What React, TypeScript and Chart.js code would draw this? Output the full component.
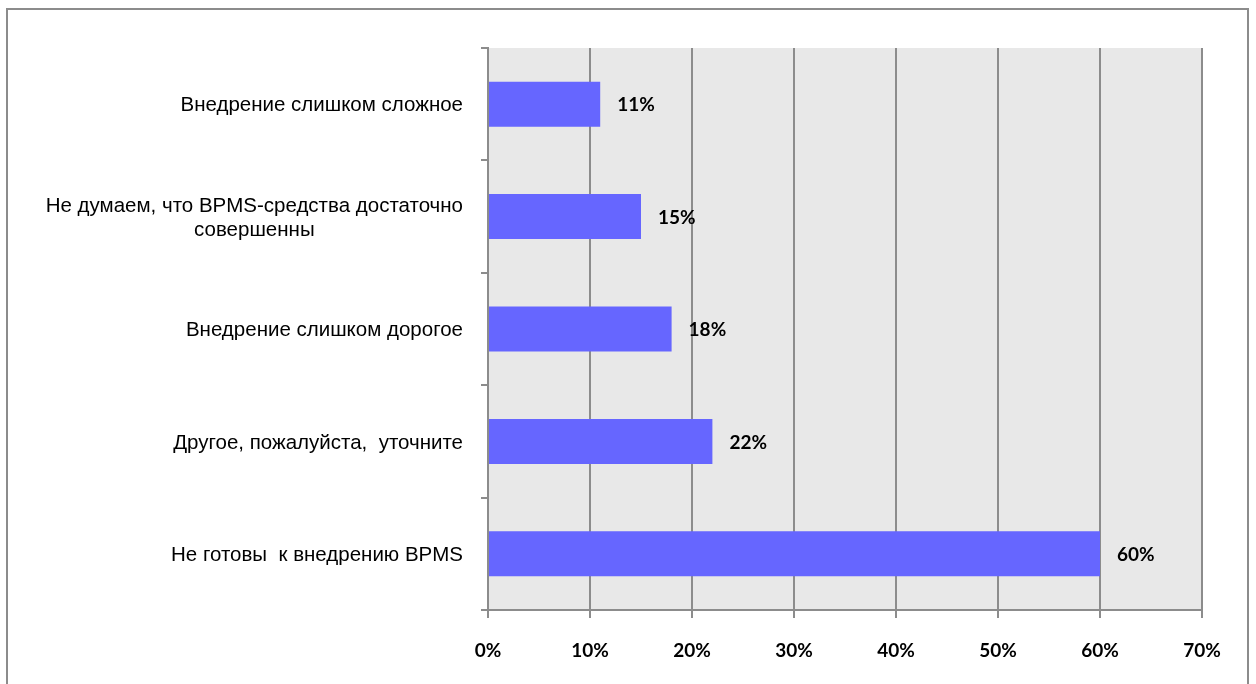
import React, { useEffect, useRef } from "react";
import { Chart, registerables } from "chart.js";

Chart.register(...registerables);

const categories: string[][] = [
  ["Внедрение слишком сложное"],
  ["Не думаем, что BPMS-средства достаточно", "совершенны"],
  ["Внедрение слишком дорогое"],
  ["Другое, пожалуйста,  уточните"],
  ["Не готовы  к внедрению BPMS"],
];
const values: number[] = [11, 15, 18, 22, 60];
const xTicks: number[] = [0, 10, 20, 30, 40, 50, 60, 70];

const GRID = "#8c8c8c";

const plotBg = {
  id: "plotBg",
  beforeDraw(chart: any) {
    const { ctx, chartArea } = chart;
    ctx.save();
    ctx.fillStyle = "#e8e8e8";
    ctx.fillRect(chartArea.left, chartArea.top, chartArea.right - chartArea.left, chartArea.bottom - chartArea.top);
    ctx.restore();
  },
};

const labelsPlugin = {
  id: "labelsPlugin",
  afterDraw(chart: any) {
    const { ctx, chartArea } = chart;
    const yScale = chart.scales.y;
    ctx.save();
    // category labels
    ctx.font = "20.5px 'Liberation Sans', Arial, sans-serif";
    ctx.fillStyle = "#000";
    ctx.textBaseline = "middle";
    ctx.textAlign = "center";
    const lh = 24;
    categories.forEach((lines, i) => {
      const cy = yScale.getPixelForValue(i) + 1.5;
      const widest = Math.max(...lines.map((l) => ctx.measureText(l).width));
      const cx = chartArea.left - 25 - widest / 2;
      lines.forEach((l, j) => {
        const y = cy + (j - (lines.length - 1) / 2) * lh;
        ctx.fillText(l, cx, y);
      });
    });
    // value labels
    ctx.font = "bold 19px Lato, 'Open Sans', sans-serif";
    ctx.textAlign = "left";
    const meta = chart.getDatasetMeta(0);
    meta.data.forEach((bar: any, i: number) => {
      ctx.fillText(values[i] + "%", bar.x + 17, bar.y + 1);
    });
    ctx.restore();
  },
};

export default function App() {
  const ref = useRef<HTMLCanvasElement>(null);
  useEffect(() => {
    const canvas = ref.current!;
    const chart = new Chart(canvas, {
      type: "bar",
      data: {
        labels: categories.map((c) => c.join(" ")),
        datasets: [
          {
            data: values,
            backgroundColor: "#6666ff",
            borderWidth: 0,
            barPercentage: 0.4,
            categoryPercentage: 1,
          },
        ],
      },
      options: {
        indexAxis: "y",
        animation: false,
        responsive: false,
        maintainAspectRatio: false,
        layout: { padding: { top: 48, right: 54, left: 0, bottom: 0 } },
        plugins: { legend: { display: false }, tooltip: { enabled: false } },
        scales: {
          x: {
            min: 0,
            max: 70,
            afterBuildTicks: (scale: any) => {
              scale.ticks = xTicks.map((v) => ({ value: v }));
            },
            afterFit: (scale: any) => {
              scale.height = 74;
            },
            grid: { color: GRID, lineWidth: 2, tickLength: 8 },
            border: { color: GRID, width: 2 },
            ticks: {
              callback: (v: any) => v + "%",
              color: "#000",
              font: { family: "Lato, 'Open Sans', sans-serif", size: 19, weight: "bold" },
              padding: 21,
              maxRotation: 0,
            },
          },
          y: {
            afterFit: (scale: any) => {
              scale.width = 488;
            },
            grid: { drawOnChartArea: false, color: GRID, lineWidth: 2, tickLength: 7, offset: true },
            border: { color: GRID, width: 2 },
            ticks: { display: false },
          },
        },
      },
      plugins: [plotBg, labelsPlugin],
    } as any);
    return () => chart.destroy();
  }, []);
  return (
    <div style={{ position: "fixed", left: 0, top: 0, width: 1256, height: 684, background: "#fff" }}>
      <canvas ref={ref} width={1256} height={684} style={{ position: "absolute", left: 0, top: 0 }} />
      <div
        style={{
          position: "absolute",
          left: 6,
          top: 8,
          width: 1243,
          height: 700,
          border: "2px solid #8c8c8c",
          boxSizing: "border-box",
          pointerEvents: "none",
        }}
      />
    </div>
  );
}
